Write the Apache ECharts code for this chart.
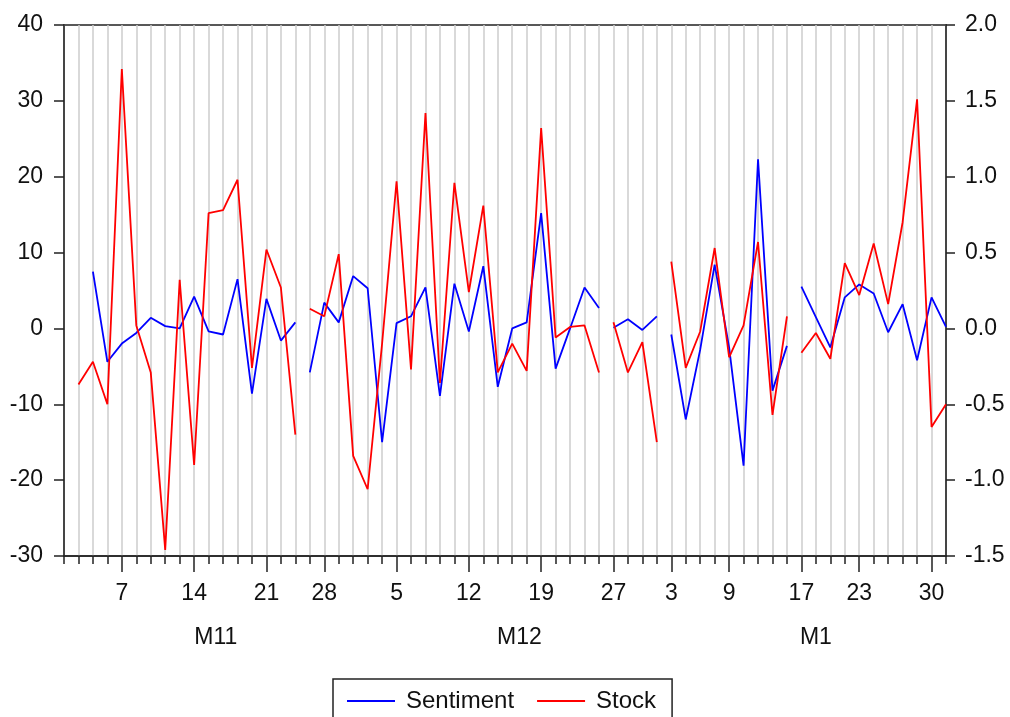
<!DOCTYPE html>
<html><head><meta charset="utf-8">
<script src="https://cdn.jsdelivr.net/npm/echarts@6/dist/echarts.min.js"></script>
<style>html,body{margin:0;padding:0;background:#fff}#c{width:1010px;height:717px}</style>
</head><body><div id="c"></div>
<script>
// Trading days (observations)
const dates = [
 '2011-11-01','2011-11-02','2011-11-03','2011-11-04','2011-11-07','2011-11-08','2011-11-09','2011-11-10','2011-11-11',
 '2011-11-14','2011-11-15','2011-11-16','2011-11-17','2011-11-18','2011-11-21','2011-11-22','2011-11-23','2011-11-25',
 '2011-11-28','2011-11-29','2011-11-30',
 '2011-12-01','2011-12-02','2011-12-05','2011-12-06','2011-12-07','2011-12-08','2011-12-09','2011-12-12','2011-12-13',
 '2011-12-14','2011-12-15','2011-12-16','2011-12-19','2011-12-20','2011-12-21','2011-12-22','2011-12-23','2011-12-27',
 '2011-12-28','2011-12-29','2011-12-30',
 '2012-01-03','2012-01-04','2012-01-05','2012-01-06','2012-01-09','2012-01-10','2012-01-11','2012-01-12','2012-01-13',
 '2012-01-17','2012-01-18','2012-01-19','2012-01-20','2012-01-23','2012-01-24','2012-01-25','2012-01-26','2012-01-27',
 '2012-01-30','2012-01-31'
];
// Market holidays (lines break across them)
const holidays = ['2011-11-24','2011-12-26','2012-01-02','2012-01-16'];

// Sentiment (left axis)
const sentiment = [
 null, null, 7.5, -4.4, -2.0, -0.6, 1.4, 0.3, 0.0,
 4.2, -0.4, -0.8, 6.5, -8.6, 3.9, -1.6, 0.8, -5.8,
 3.4, 0.8, 6.9,
 5.3, -15.0, 0.7, 1.6, 5.4, -8.9, 5.9, -0.4, 8.2,
 -7.7, 0.0, 0.8, 15.2, -5.3, 0.0, 5.4, 2.7, 0.1,
 1.2, -0.2, 1.6,
 -0.8, -12.0, -2.8, 8.4, -2.5, -18.1, 22.3, -8.2, -2.3,
 5.5, 1.5, -2.5, 4.1, 5.8, 4.6, -0.5, 3.2, -4.2,
 4.1, 0.2
];
// Stock (right axis)
const stock = [
 null, -0.37, -0.22, -0.50, 1.71, 0.02, -0.29, -1.46, 0.32,
 -0.90, 0.76, 0.78, 0.98, -0.26, 0.52, 0.27, -0.70, 0.13,
 0.08, 0.49, -0.84,
 -1.06, -0.10, 0.97, -0.27, 1.42, -0.36, 0.96, 0.24, 0.81,
 -0.29, -0.10, -0.28, 1.32, -0.06, 0.01, 0.02, -0.29, 0.04,
 -0.29, -0.09, -0.75,
 0.44, -0.26, -0.02, 0.53, -0.19, 0.02, 0.57, -0.57, 0.08,
 -0.16, -0.03, -0.20, 0.43, 0.22, 0.56, 0.16, 0.70, 1.51,
 -0.65, -0.50
];

// Labelled dates on the time axis
const tickDates = ['2011-11-07','2011-11-14','2011-11-21','2011-11-28','2011-12-05','2011-12-12','2011-12-19',
 '2011-12-27','2012-01-03','2012-01-09','2012-01-17','2012-01-23','2012-01-30'];
const monthKeys = ['2011-11','2011-12','2012-01'];
const monthLabels = ['M11','M12','M1'];

const leftTicks = {min:-30, max:40, interval:10};
const rightTicks = {min:-1.5, max:2.0, interval:0.5};

function buildData(vals){
  const out = [];
  for (let i = 0; i < dates.length; i++) {
    if (i > 0 && holidays.some(h => h > dates[i-1] && h < dates[i])) out.push([i - 0.5, null]);
    out.push([i, vals[i]]);
  }
  return out;
}
const majorIdx = tickDates.map(d => dates.indexOf(d));
const monthCenters = monthKeys.map(k => {
  const idx = dates.map((d,i)=>[d,i]).filter(p=>p[0].startsWith(k)).map(p=>p[1]);
  return idx.reduce((a,b)=>a+b,0)/idx.length + 0.5;
});

const FONT = "'Liberation Sans', Arial, sans-serif";
const TXT = '#111';
const AX = '#222';
const BLUE = '#0000ff', RED = '#ff0000';
const lastIdx = dates.length - 1;

const chart = echarts.init(document.getElementById('c'), null, {renderer:'canvas'});
chart.setOption({
  animation:false,
  backgroundColor:'#fff',
  grid:{left:64, right:64, top:25, bottom:161, show:true, borderColor:AX, borderWidth:1.5, backgroundColor:'transparent'},
  legend:{
    left:333, top:679, itemWidth:48, itemHeight:2, itemGap:23,
    padding:[10,16,22,14], borderColor:AX, borderWidth:1.5,
    textStyle:{fontSize:24, fontFamily:FONT, color:TXT, padding:[0,0,0,6]},
    data:[{name:'Sentiment', icon:'rect', itemStyle:{color:BLUE}}, {name:'Stock', icon:'rect', itemStyle:{color:RED}}]
  },
  xAxis:[
    {type:'value', min:0, max:lastIdx, interval:1, position:'bottom',
     axisLine:{show:true, onZero:false, lineStyle:{color:AX, width:1.5}},
     axisTick:{show:true, length:8, lineStyle:{color:AX, width:1.5}},
     axisLabel:{show:false},
     splitLine:{show:true, lineStyle:{color:'#cccccc', width:1.5}}},
    {type:'value', min:0, max:lastIdx, position:'bottom',
     axisLine:{show:false, onZero:false},
     axisTick:{show:true, length:16, customValues:majorIdx, lineStyle:{color:AX, width:1.5}},
     axisLabel:{show:true, customValues:majorIdx, margin:26, fontSize:23, fontFamily:FONT, color:TXT,
       formatter:v => { const i = Math.round(v); return String(parseInt(dates[i].slice(8),10)); }},
     splitLine:{show:false}},
    {type:'value', min:0, max:lastIdx, position:'bottom',
     axisLine:{show:false, onZero:false},
     axisTick:{show:false},
     axisLabel:{show:true, customValues:monthCenters, margin:70, fontSize:23, fontFamily:FONT, color:TXT,
       formatter:v => { let b=0; monthCenters.forEach((c,k)=>{ if(Math.abs(c-v)<Math.abs(monthCenters[b]-v)) b=k; }); return monthLabels[b]; }},
     splitLine:{show:false}}
  ],
  yAxis:[
    {type:'value', position:'left', min:leftTicks.min, max:leftTicks.max, interval:leftTicks.interval,
     axisLine:{show:true, onZero:false, lineStyle:{color:AX, width:1.5}},
     axisTick:{show:true, length:10, lineStyle:{color:AX, width:1.5}},
     axisLabel:{margin:21, fontSize:23, fontFamily:FONT, color:TXT},
     splitLine:{show:false}},
    {type:'value', position:'right', min:rightTicks.min, max:rightTicks.max, interval:rightTicks.interval,
     axisLine:{show:true, onZero:false, lineStyle:{color:AX, width:1.5}},
     axisTick:{show:true, length:9, lineStyle:{color:AX, width:1.5}},
     axisLabel:{margin:19, fontSize:23, fontFamily:FONT, color:TXT, formatter:v => v.toFixed(1)},
     splitLine:{show:false}}
  ],
  series:[
    {name:'Sentiment', type:'line', xAxisIndex:0, yAxisIndex:0, data:buildData(sentiment),
     symbol:'none', showSymbol:false, connectNulls:false, lineStyle:{color:BLUE, width:1.8}, itemStyle:{color:BLUE}},
    {name:'Stock', type:'line', xAxisIndex:0, yAxisIndex:1, data:buildData(stock),
     symbol:'none', showSymbol:false, connectNulls:false, lineStyle:{color:RED, width:1.8}, itemStyle:{color:RED}}
  ]
});
</script></body></html>
